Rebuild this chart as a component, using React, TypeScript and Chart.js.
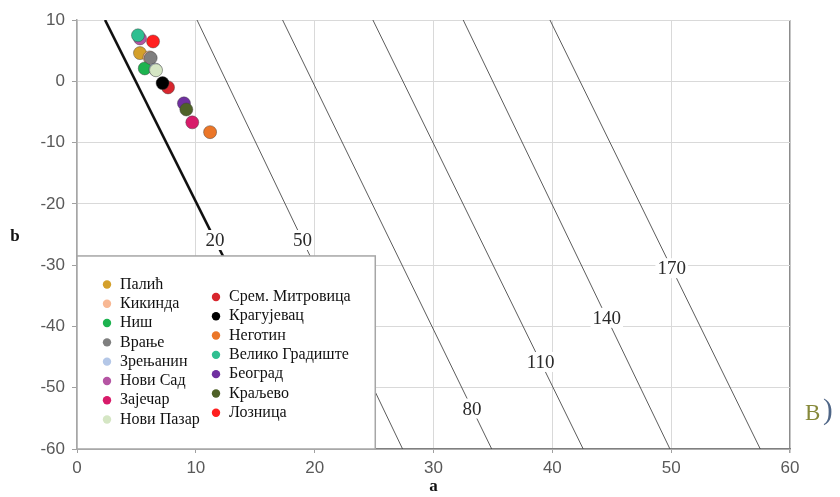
import React, { useEffect, useRef } from 'react';
import { Chart, registerables } from 'chart.js';
Chart.register(...registerables);

// ---- data ----
const cities = ['Палић', 'Кикинда', 'Ниш', 'Врање', 'Зрењанин', 'Нови Сад', 'Зајечар', 'Нови Пазар',
  'Срем. Митровица', 'Крагујевац', 'Неготин', 'Велико Градиште', 'Београд', 'Краљево', 'Лозница'];
const cityColors = ['#D4A02B', '#F8B894', '#1DB34F', '#7F7F7F', '#B4C7E7', '#B555A3', '#D81B6A', '#D5E6C4',
  '#D8262E', '#000000', '#EB7628', '#2FBF91', '#7030A0', '#4F6228', '#FF1F1F'];
const aValues = [5.3, 6.1, 5.7, 6.2, 6.6, 5.3, 9.7, 6.65, 7.66, 7.2, 11.2, 5.13, 9.0, 9.2, 6.4];
const bValues = [4.6, 3.9, 2.1, 3.8, 1.9, 7.0, -6.7, 1.8, -1.0, -0.3, -8.3, 7.5, -3.6, -4.6, 6.5];

const contourLabels = ['20', '50', '80', '110', '140', '170'];
const contourTopA = [2.36, 10.1, 17.3, 24.9, 32.5, 39.8];     // a at b = 10
const contourBottomA = [20.4, 27.4, 34.9, 42.6, 49.9, 57.5];  // a at b = -60
const contourLabelB = [-25.9, -25.9, -53.4, -45.8, -38.6, -30.5];

const aMin = 0, aMax = 60, bMin = -60, bMax = 10;
const legendCol1Count = 8;

const SERIF = '"Liberation Serif", "Times New Roman", serif';
const SANS = '"Liberation Sans", Arial, sans-serif';

const overlayPlugin = {
  id: 'overlay',
  afterDatasetsDraw(chart: any) {
    const { ctx, scales } = chart;
    const xs = scales.x, ys = scales.y;
    ctx.save();
    // contour labels
    ctx.font = `19px ${SERIF}`;
    ctx.textAlign = 'center';
    ctx.textBaseline = 'middle';
    contourLabels.forEach((lab, i) => {
      const t = (bMax - contourLabelB[i]) / (bMax - bMin);
      const a = contourTopA[i] + t * (contourBottomA[i] - contourTopA[i]);
      const px = xs.getPixelForValue(a);
      const py = ys.getPixelForValue(contourLabelB[i]);
      const w = ctx.measureText(lab).width;
      ctx.fillStyle = '#ffffff';
      ctx.fillRect(px - w / 2 - 2, py - 10, w + 4, 20);
      ctx.fillStyle = '#2a2a2a';
      ctx.fillText(lab, px, py + 1);
    });

    // legend box
    const lx0 = xs.left, lx1 = xs.getPixelForValue(25.1), ly0 = ys.getPixelForValue(-28.5), ly1 = ys.bottom;
    ctx.fillStyle = '#ffffff';
    ctx.fillRect(lx0, ly0, lx1 - lx0, ly1 - ly0);
    ctx.strokeStyle = '#a6a6a6';
    ctx.lineWidth = 1.5;
    ctx.strokeRect(lx0, ly0, lx1 - lx0, ly1 - ly0);
    ctx.font = `16px ${SERIF}`;
    ctx.textAlign = 'left';
    ctx.textBaseline = 'middle';
    cities.forEach((c, i) => {
      const col2 = i >= legendCol1Count;
      const k = col2 ? i - legendCol1Count : i;
      const mx = lx0 + (col2 ? 139 : 30);
      const my = ly0 + (col2 ? 41 : 28.5) + k * 19.3;
      ctx.beginPath();
      ctx.arc(mx, my, 4.2, 0, Math.PI * 2);
      ctx.fillStyle = cityColors[i];
      ctx.fill();
      ctx.fillStyle = '#111111';
      ctx.fillText(c, mx + 13, my);
    });
    ctx.restore();
  },
  afterDraw(chart: any) {
    const { ctx, scales } = chart;
    ctx.save();
    ctx.fillStyle = '#111111';
    ctx.font = `bold 17px ${SERIF}`;
    ctx.textAlign = 'center';
    ctx.textBaseline = 'middle';
    ctx.fillText('a', (scales.x.left + scales.x.right) / 2, 487);
    ctx.fillText('b', 15, (scales.y.top + scales.y.bottom) / 2 + 2);
    // panel label
    ctx.textAlign = 'left';
    ctx.font = `23px ${SERIF}`;
    ctx.fillStyle = '#86893A';
    ctx.fillText('В', 805, 414);
    ctx.font = `29px ${SERIF}`;
    ctx.fillStyle = '#4F6687';
    ctx.fillText(')', 823, 411);
    ctx.restore();
  },
};

export default function App() {
  const ref = useRef<HTMLCanvasElement>(null);
  useEffect(() => {
    if (!ref.current) return;
    const pointSets = cities.map((c, i) => ({
      type: 'scatter' as const,
      label: c,
      data: [{ x: aValues[i], y: bValues[i] }],
      backgroundColor: cityColors[i],
      borderColor: 'rgba(60,60,60,0.55)',
      borderWidth: 0.8,
      pointRadius: 6.5,
      order: 100 - i,
    }));
    const lineSets = contourLabels.map((lab, i) => ({
      type: 'line' as const,
      label: 'c' + lab,
      data: [{ x: contourTopA[i], y: bMax }, { x: contourBottomA[i], y: bMin }],
      borderColor: i === 0 ? '#111111' : '#4a4a4a',
      borderWidth: i === 0 ? 2.6 : 0.9,
      pointRadius: 0,
      fill: false,
      order: 200,
    }));
    const chart = new Chart(ref.current, {
      type: 'scatter',
      data: { datasets: [...lineSets, ...pointSets] as any },
      options: {
        responsive: false,
        animation: false,
        devicePixelRatio: 1,
        layout: { padding: { top: 20, right: 50, left: 0, bottom: 0 } },
        plugins: { legend: { display: false }, tooltip: { enabled: false } },
        scales: {
          x: {
            type: 'linear', min: aMin, max: aMax,
            ticks: { stepSize: 10, color: '#595959', font: { family: SANS, size: 17 }, padding: 5 },
            grid: {
              color: (c: any) => (c.tick && c.tick.value === aMax ? '#8c8c8c' : '#d9d9d9'),
              lineWidth: (c: any) => (c.tick && c.tick.value === aMax ? 1.5 : 1),
              tickLength: 4,
              tickColor: '#a0a0a0',
            },
            border: { color: '#808080', width: 1.5 },
            afterFit: (s: any) => { s.height = 48; },
          },
          y: {
            type: 'linear', min: bMin, max: bMax,
            ticks: { stepSize: 10, color: '#595959', font: { family: SANS, size: 17 }, padding: 7 },
            grid: { color: '#d9d9d9', lineWidth: 1, tickLength: 5, tickColor: '#a0a0a0' },
            border: { color: '#a6a6a6', width: 1.5 },
            afterFit: (s: any) => { s.width = 77; },
          },
        },
      },
      plugins: [overlayPlugin],
    });
    return () => chart.destroy();
  }, []);
  return (
    <div style={{ position: 'fixed', left: 0, top: 0, width: 840, height: 497, background: '#fff' }}>
      <canvas ref={ref} width={840} height={497} style={{ display: 'block', width: 840, height: 497 }} />
    </div>
  );
}
